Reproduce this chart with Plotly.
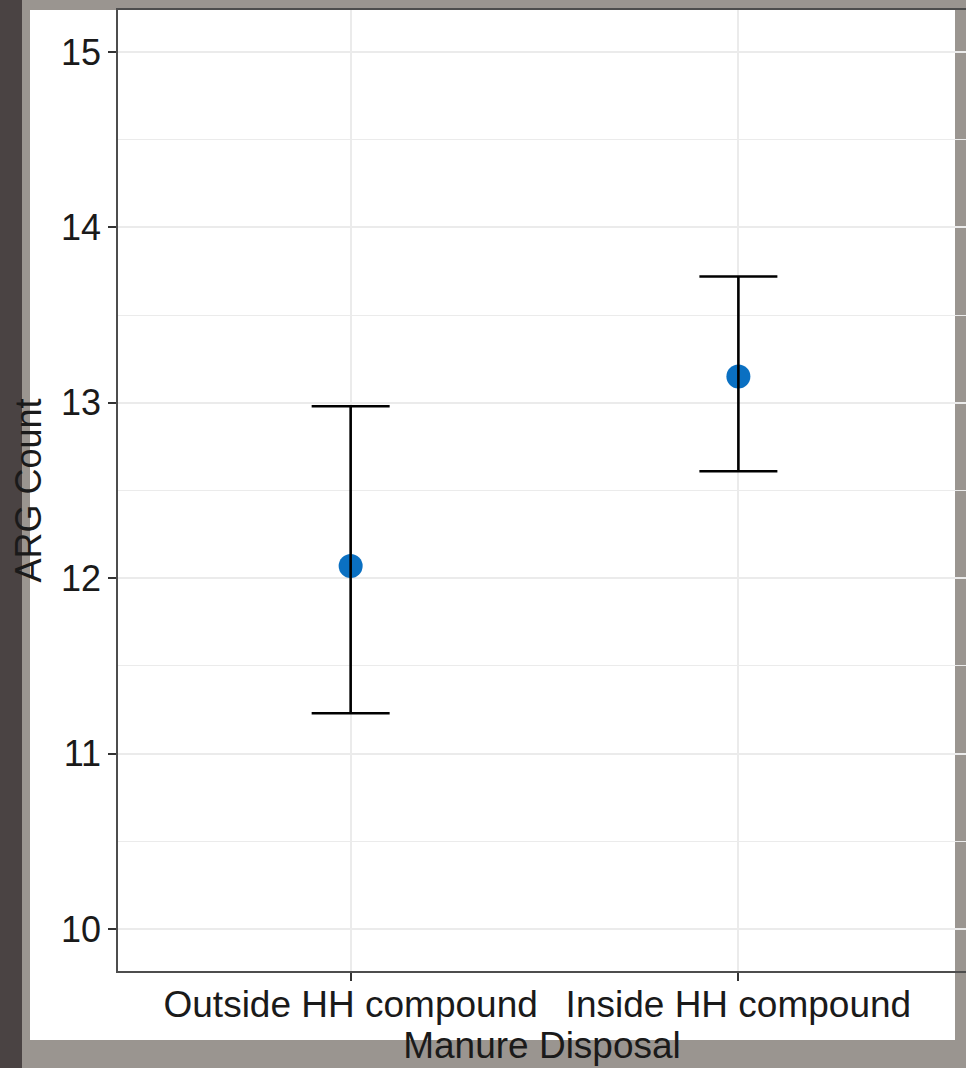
import plotly.graph_objects as go

categories = ["Outside HH compound", "Inside HH compound"]
mean_count = [12.07, 13.15]
upper_ci = [12.98, 13.72]
lower_ci = [11.23, 12.61]
y_ticks = [10, 11, 12, 13, 14, 15]

err_plus = [u - m for u, m in zip(upper_ci, mean_count)]
err_minus = [m - l for m, l in zip(mean_count, lower_ci)]

FONT = "Liberation Sans, Arial, sans-serif"
W, H = 966, 1068
L, R, T, B = 118, 0, 10, 97
pw, ph = W - L - R, H - T - B

def px_x(x):
    return (x - L) / pw

def px_y(y):
    return (H - B - y) / ph

fig = go.Figure()
fig.add_trace(go.Scatter(
    x=categories, y=mean_count, mode="markers",
    marker=dict(color="#0a70c2", size=24, line=dict(width=0)),
    showlegend=False, hoverinfo="skip"))
fig.add_trace(go.Scatter(
    x=categories, y=mean_count, mode="markers",
    marker=dict(color="rgba(0,0,0,0)", size=1),
    error_y=dict(type="data", symmetric=False, array=err_plus, arrayminus=err_minus,
                 color="black", thickness=2.6, width=39),
    showlegend=False))

shapes = [
    dict(type="rect", xref="paper", yref="paper", layer="below",
         x0=px_x(30), x1=px_x(955), y0=px_y(1040), y1=px_y(10),
         fillcolor="white", line=dict(width=0)),
    dict(type="rect", xref="paper", yref="paper", layer="below",
         x0=px_x(0), x1=px_x(22), y0=px_y(1068), y1=px_y(0),
         fillcolor="#4a4343", line=dict(width=0)),
]

fig.update_layout(
    width=W, height=H,
    margin=dict(l=L, r=R, t=T, b=B, autoexpand=False),
    paper_bgcolor="#9a9590", plot_bgcolor="rgba(0,0,0,0)",
    font=dict(family=FONT, size=36, color="#1a1a1a"),
    shapes=shapes,
    xaxis=dict(
        type="category", range=[-0.6, 1.587],
        showgrid=True, gridcolor="#ebebeb", gridwidth=2,
        showline=True, linecolor="#4d4d4d", linewidth=1.5, mirror=True,
        ticks="outside", ticklen=8, tickcolor="#333333", tickwidth=1.5,
        ticklabelstandoff=-8,
        tickfont=dict(size=37, color="#1a1a1a"),
        title=dict(text="Manure Disposal", font=dict(size=37, color="#1a1a1a"), standoff=4),
        zeroline=False, automargin=False),
    yaxis=dict(
        range=[9.7605, 15.2395], tickvals=y_ticks,
        showgrid=True, gridcolor="#ebebeb", gridwidth=2,
        minor=dict(dtick=0.5, showgrid=True, gridcolor="#ebebeb", gridwidth=1.2, ticks=""),
        showline=True, linecolor="#4d4d4d", linewidth=1.5,
        ticks="outside", ticklen=8, tickcolor="#333333", tickwidth=1.5,
        tickfont=dict(size=36, color="#1a1a1a"),
        title=dict(text="ARG Count", font=dict(size=36, color="#1a1a1a"), standoff=8),
        zeroline=False, automargin=False),
)

fig.write_html("out.html", config={"displayModeBar": False},
               post_script="document.body.style.margin='0';document.body.style.overflow='hidden';")
